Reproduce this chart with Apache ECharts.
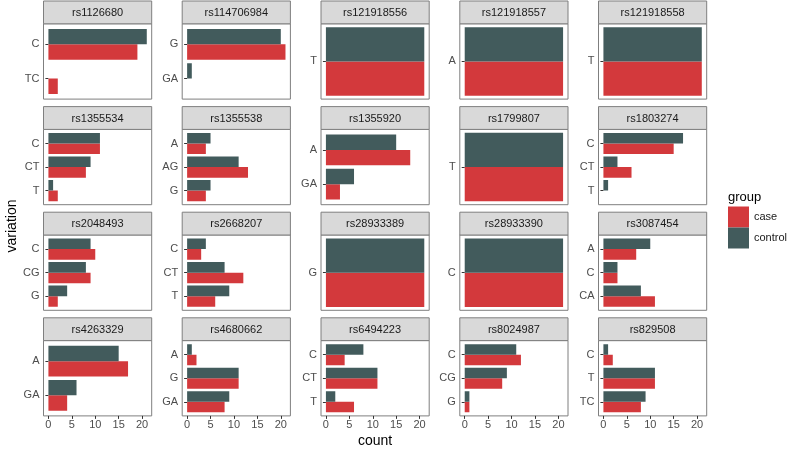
<!DOCTYPE html>
<html><head><meta charset="utf-8">
<script src="https://cdn.jsdelivr.net/npm/echarts@6/dist/echarts.min.js"></script>
<style>html,body{margin:0;padding:0;background:#fff}#c{width:789px;height:450px}</style>
</head><body><div id="c"></div>
<script>
// ---- data ----
const panels = ['rs1126680','rs114706984','rs121918556','rs121918557','rs121918558',
  'rs1355534','rs1355538','rs1355920','rs1799807','rs1803274',
  'rs2048493','rs2668207','rs28933389','rs28933390','rs3087454',
  'rs4263329','rs4680662','rs6494223','rs8024987','rs829508'];
const variations = [
  ['C','TC'],['G','GA'],['T'],['A'],['T'],
  ['C','CT','T'],['A','AG','G'],['A','GA'],['T'],['C','CT','T'],
  ['C','CG','G'],['C','CT','T'],['G'],['C'],['A','C','CA'],
  ['A','GA'],['A','G','GA'],['C','CT','T'],['C','CG','G'],['C','T','TC']];
const caseCounts = [
  [19,2],[21,0],[21],[21],[21],
  [11,8,2],[4,13,4],[18,3],[21],[15,6,0],
  [10,9,2],[3,12,6],[21],[21],[7,3,11],
  [17,4],[2,11,8],[4,11,6],[12,8,1],[2,11,8]];
const controlCounts = [
  [21,0],[20,1],[21],[21],[21],
  [11,9,1],[5,11,5],[15,6],[21],[17,3,1],
  [9,8,4],[4,8,9],[21],[21],[10,3,8],
  [15,6],[1,11,9],[8,11,2],[11,9,1],[1,11,9]];
const xTicks = [0,5,10,15,20];
const groups = ['case','control'];
const groupColors = {case:'#D3393C', control:'#425B5C'};

// ---- layout ----
const FONT = '"Liberation Sans", Arial, Helvetica, sans-serif';
const COL_X = [43.5, 182.2, 321, 459.8, 598.5];
const PW = 108.2;
const ROW_Y = [1, 106.6, 212.2, 317.8];
const SH = 22.8, PH = 75.3;
const XMIN = -1.05, XMAX = 22.05;
const BORDER = '#7F7F7F';

const grids = [], xAxes = [], yAxes = [], series = [], graphics = [];

panels.forEach((name, i) => {
  const r = Math.floor(i / 5), c = i % 5;
  const left = COL_X[c], stripTop = ROW_Y[r], top = stripTop + SH;
  const cats = variations[i], n = cats.length;
  const bottomRow = r === 3;
  grids.push({left: left, top: top, width: PW, height: PH, show: true,
    borderColor: BORDER, borderWidth: 1, backgroundColor: '#fff', containLabel: false});
  const catVals = cats.map((_, k) => k + 1);
  xAxes.push({type: 'value', gridIndex: i, min: XMIN, max: XMAX,
    axisLine: {show: false}, splitLine: {show: false},
    axisTick: {show: bottomRow, length: 3, lineStyle: {color: '#333', width: 1}, customValues: xTicks},
    axisLabel: {show: bottomRow, customValues: xTicks, color: '#4D4D4D', fontSize: 11, fontFamily: FONT, margin: 4}
  });
  const ymin = n === 1 ? 0.505 : 0.4, ymax = n === 1 ? 1.495 : n + 0.6;
  yAxes.push({type: 'value', gridIndex: i, min: ymin, max: ymax, inverse: true,
    axisLine: {show: false}, splitLine: {show: false},
    axisTick: {show: true, length: 3, lineStyle: {color: '#333', width: 1}, customValues: catVals},
    axisLabel: {show: true, customValues: catVals, color: '#4D4D4D', fontSize: 11, fontFamily: FONT, margin: 4,
      formatter: (v) => cats[Math.round(v) - 1] || ''}
  });
  groups.forEach((g) => {
    const vals = g === 'case' ? caseCounts[i] : controlCounts[i];
    const side = g === 'case' ? 0 : -1;
    const data = [];
    vals.forEach((v, k) => { if (v > 0) data.push([v, k + 1, side]); });
    series.push({type: 'custom', name: g, xAxisIndex: i, yAxisIndex: i, clip: true,
      itemStyle: {color: groupColors[g]},
      encode: {x: 0, y: 1},
      renderItem: function (params, api) {
        const v = api.value(0), idx = api.value(1), sd = api.value(2);
        const p0 = api.coord([0, idx + sd * 0.45]);
        const p1 = api.coord([v, idx + sd * 0.45 + 0.45]);
        return {type: 'rect',
          shape: {x: p0[0], y: Math.min(p0[1], p1[1]), width: p1[0] - p0[0], height: Math.abs(p1[1] - p0[1])},
          style: {fill: api.visual('color')}};
      },
      data: data});
  });
  graphics.push({type: 'rect', shape: {x: left, y: stripTop, width: PW, height: SH},
    style: {fill: '#D9D9D9', stroke: BORDER, lineWidth: 1}, z: 10});
  graphics.push({type: 'text', x: left + PW / 2, y: stripTop + SH / 2 + 0.5,
    style: {text: name, fill: '#1A1A1A', font: '11px ' + FONT, textAlign: 'center', textVerticalAlign: 'middle'}, z: 11});
});

graphics.push({type: 'text', x: 12, y: 226, rotation: Math.PI / 2,
  style: {text: 'variation', fill: '#000', font: '14px ' + FONT, textAlign: 'center', textVerticalAlign: 'middle'}});
graphics.push({type: 'text', x: 375, y: 441,
  style: {text: 'count', fill: '#000', font: '14px ' + FONT, textAlign: 'center', textVerticalAlign: 'middle'}});
graphics.push({type: 'text', x: 728, y: 197,
  style: {text: 'group', fill: '#000', font: '13px ' + FONT, textAlign: 'left', textVerticalAlign: 'middle'}});

const chart = echarts.init(document.getElementById('c'), null, {renderer: 'canvas'});
chart.setOption({
  animation: false,
  backgroundColor: '#fff',
  grid: grids, xAxis: xAxes, yAxis: yAxes, series: series,
  legend: {orient: 'vertical', left: 728, top: 206.5, itemWidth: 21, itemHeight: 21, itemGap: 0,
    icon: 'rect', padding: 0, data: groups,
    textStyle: {color: '#1A1A1A', fontSize: 11, fontFamily: FONT}},
  graphic: graphics
});
</script></body></html>
